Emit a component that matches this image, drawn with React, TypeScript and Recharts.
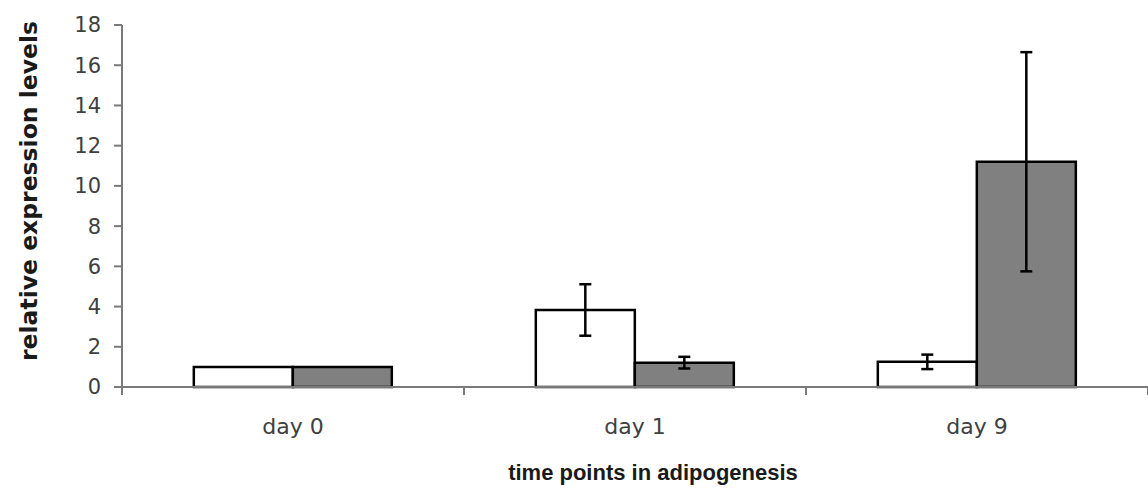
import { BarChart, Bar, XAxis, YAxis, ErrorBar } from "recharts";

const categories = ["day 0", "day 1", "day 9"];
const whiteValues = [1.0, 3.83, 1.25];
const whiteErrors = [0, 1.28, 0.36];
const grayValues = [1.0, 1.21, 11.2];
const grayErrors = [0, 0.29, 5.45];
const yTicks = [0, 2, 4, 6, 8, 10, 12, 14, 16, 18];

const data = categories.map((name, i) => ({
  name,
  white: whiteValues[i],
  whiteErr: whiteErrors[i],
  gray: grayValues[i],
  grayErr: grayErrors[i],
}));

const AXIS_COLOR = "#7a7a7a";
const FONT = "'DejaVu Sans', sans-serif";

function XTick(props: any) {
  const { x, y, payload, index } = props;
  const half = payload.offset ?? 0;
  const last = index === categories.length - 1;
  return (
    <g>
      <line x1={x - half} x2={x - half} y1={y} y2={y + 8} stroke={AXIS_COLOR} strokeWidth={2} />
      {last && <line x1={x + half} x2={x + half} y1={y} y2={y + 8} stroke={AXIS_COLOR} strokeWidth={2} />}
      <text x={x} y={y + 47} textAnchor="middle" fill="#404040" fontSize={22} fontFamily={FONT}>
        {payload.value}
      </text>
    </g>
  );
}

function YLabel() {
  return (
    <text
      x={37}
      y={191}
      transform="rotate(-90, 37, 191)"
      textAnchor="middle"
      fill="#1a1a1a"
      fontSize={23.5}
      fontWeight="bold"
      fontFamily={FONT}
    >
      relative expression levels
    </text>
  );
}

function XLabel() {
  return (
    <text
      x={653}
      y={480}
      textAnchor="middle"
      fill="#1a1a1a"
      fontSize={22}
      fontWeight="bold"
      fontFamily="'Liberation Sans', Arial, sans-serif"
    >
      time points in adipogenesis
    </text>
  );
}

export default function App() {
  return (
    <div style={{ position: "absolute", left: 0, top: 0, background: "#fff" }}>
      <BarChart
        width={1148}
        height={489}
        data={data}
        margin={{ top: 25, right: 0, bottom: 0, left: 2 }}
        barCategoryGap="21%"
        barGap={0}
      >
        <XAxis
          dataKey="name"
          height={102}
          axisLine={{ stroke: AXIS_COLOR, strokeWidth: 2 }}
          tickLine={false}
          tickSize={0}
          tickMargin={0}
          tick={<XTick />}
          interval={0}
          label={<XLabel />}
        />
        <YAxis
          width={120}
          domain={[0, 18]}
          ticks={yTicks}
          interval={0}
          axisLine={{ stroke: AXIS_COLOR, strokeWidth: 2 }}
          tickLine={{ stroke: AXIS_COLOR, strokeWidth: 2 }}
          tickSize={8}
          tickMargin={13}
          tick={{ fill: "#404040", fontSize: 21, fontFamily: FONT }}
          label={<YLabel />}
        />
        <Bar dataKey="white" fill="#ffffff" stroke="#000" strokeWidth={2.5} isAnimationActive={false}>
          <ErrorBar dataKey="whiteErr" width={6} stroke="#000" strokeWidth={2.5} />
        </Bar>
        <Bar dataKey="gray" fill="#808080" stroke="#000" strokeWidth={2.5} isAnimationActive={false}>
          <ErrorBar dataKey="grayErr" width={6} stroke="#000" strokeWidth={2.5} />
        </Bar>
      </BarChart>
    </div>
  );
}
